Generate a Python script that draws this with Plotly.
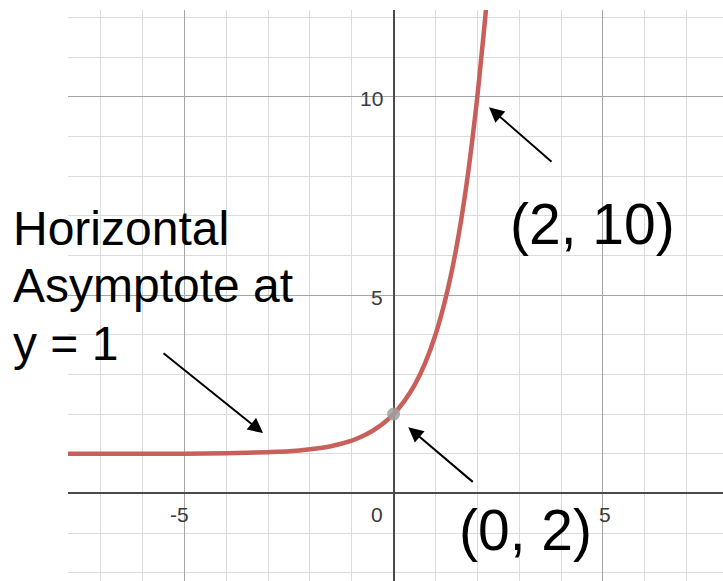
import plotly.graph_objects as go

# Points on the curve y = 3^x + 1
curve_x = [-7.8, -7.0, -6.0, -5.0, -4.0, -3.0, -2.5, -2.0, -1.5, -1.0, -0.75, -0.5,
           -0.25, 0.0, 0.25, 0.5, 0.75, 1.0, 1.25, 1.5, 1.75, 2.0, 2.1, 2.2, 2.3]
curve_y = [1.00, 1.00, 1.00, 1.00, 1.01, 1.04, 1.06, 1.11, 1.19, 1.33, 1.44, 1.58,
           1.76, 2.00, 2.32, 2.73, 3.28, 4.00, 4.95, 6.20, 7.85, 10.00, 11.05, 12.12, 13.50]

# Highlighted point (y-intercept)
point_x = [0]
point_y = [2]

# Axis numbers drawn next to the axes
x_tick_vals = [-5, 0, 5]
x_tick_text = ["-5", "0", "5"]
y_tick_vals = [5, 10]
y_tick_text = ["5", "10"]

W, H = 723, 581
L, T = 68, 10            # plot area offset (left, top) in px
PW, PH = W - L, H - T    # plot area size in px

FONT = "Liberation Sans, Arial, sans-serif"
CURVE = "#c95f5b"
NUM_COLOR = "#3a3a3a"


def px(xp):
    return (xp - L) / PW


def py(yp):
    return 1 - (yp - T) / PH


fig = go.Figure()

fig.add_trace(go.Scatter(
    x=curve_x, y=curve_y, mode="lines",
    line=dict(color=CURVE, width=4.5, shape="spline", smoothing=0.6),
    hoverinfo="skip", showlegend=False,
))
fig.add_trace(go.Scatter(
    x=point_x, y=point_y, mode="markers",
    marker=dict(color="rgba(160,160,160,0.85)", size=13, line=dict(width=0)),
    showlegend=False,
))

annotations = []

# axis numbers
for v, t in zip(x_tick_vals, x_tick_text):
    if v == 0:
        annotations.append(dict(x=0, y=0, xref="x", yref="y", text=t, showarrow=False,
                                xanchor="right", yanchor="middle", xshift=-9, yshift=-21,
                                font=dict(family=FONT, size=21, color=NUM_COLOR)))
    else:
        annotations.append(dict(x=v, y=0, xref="x", yref="y", text=t, showarrow=False,
                                xanchor="center", yanchor="middle",
                                xshift=-5 if v < 0 else 2, yshift=-21,
                                font=dict(family=FONT, size=21, color=NUM_COLOR)))
for v, t in zip(y_tick_vals, y_tick_text):
    annotations.append(dict(x=0, y=v, xref="x", yref="y", text=t, showarrow=False,
                            xanchor="right", yanchor="middle", xshift=-9, yshift=-2,
                            font=dict(family=FONT, size=21, color=NUM_COLOR)))

# labels
annotations.append(dict(x=px(592.5), y=py(224), xref="paper", yref="paper", text="(2, 10)",
                        showarrow=False, xanchor="center", yanchor="middle",
                        font=dict(family=FONT, size=57, color="black")))
annotations.append(dict(x=px(525.5), y=py(530), xref="paper", yref="paper", text="(0, 2)",
                        showarrow=False, xanchor="center", yanchor="middle",
                        font=dict(family=FONT, size=57, color="black")))
for line, yc in zip(["Horizontal", "Asymptote at", "y = 1"], [228.5, 285.5, 343]):
    annotations.append(dict(x=px(11), y=py(yc), xref="paper", yref="paper", text=line,
                            showarrow=False, xanchor="left", yanchor="middle",
                            font=dict(family=FONT, size=48, color="black")))

# arrows (head in data units, tail offset in px)
for hx, hy, ax, ay in [(2.28, 9.74, 64, 56), (0.35, 1.67, 66, 56), (-3.12, 1.52, -101, -81)]:
    annotations.append(dict(x=hx, y=hy, xref="x", yref="y", text="", showarrow=True,
                            ax=ax, ay=ay, arrowhead=2, arrowsize=1.5, arrowwidth=2,
                            arrowcolor="black", standoff=0))

axis_common = dict(
    dtick=5, tick0=0, showgrid=True, gridcolor="#a5a5a5", gridwidth=1,
    minor=dict(dtick=1, tick0=0, showgrid=True, gridcolor="#dcdcdc", gridwidth=1),
    zeroline=True, zerolinecolor="#4a4a4a", zerolinewidth=2,
    showticklabels=False, ticks="", showline=False, fixedrange=True,
)

fig.update_layout(
    width=W, height=H,
    margin=dict(l=L, r=0, t=T, b=0, pad=0),
    paper_bgcolor="white", plot_bgcolor="white",
    xaxis=dict(range=[-7.78, 7.87], **axis_common),
    yaxis=dict(range=[-2.21, 12.19], **axis_common),
    annotations=annotations,
    showlegend=False,
)

fig.write_html("out.html", config={"displayModeBar": False})
